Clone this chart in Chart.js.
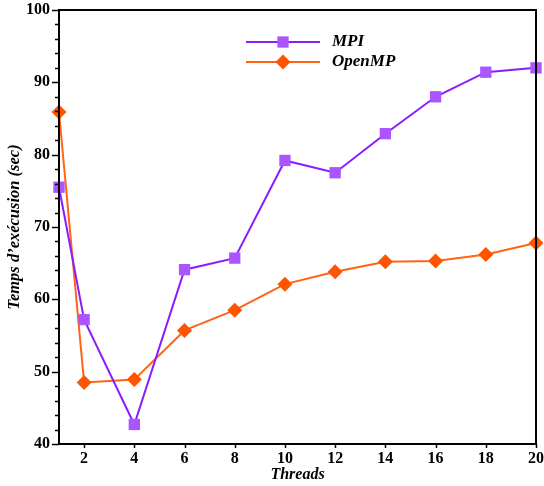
<!DOCTYPE html>
<html>
<head>
<meta charset="utf-8">
<script src="https://cdn.jsdelivr.net/npm/chart.js@4.4.0/dist/chart.umd.min.js"></script>
<style>
  html, body { margin: 0; padding: 0; background: #fff; }
  #wrap { width: 544px; height: 486px; }
</style>
</head>
<body>
<div id="wrap"><canvas id="chart"></canvas></div>
<script>
// execution time vs number of threads
const threads = [1, 2, 4, 6, 8, 10, 12, 14, 16, 18, 20];
const mpiTimes = [75.5, 57.2, 42.7, 64.1, 65.7, 79.2, 77.5, 82.9, 88.0, 91.4, 92.0];
const openmpTimes = [85.9, 48.5, 48.9, 55.7, 58.5, 62.1, 63.8, 65.2, 65.3, 66.2, 67.8];
const xTicks = [2, 4, 6, 8, 10, 12, 14, 16, 18, 20];
const yTicks = [40, 50, 60, 70, 80, 90, 100];
const yMinorStep = 2;

const serif = "'Liberation Serif', 'Times New Roman', serif";

// box around the plot plus outward tick marks (major and minor)
const frameTicks = {
  id: 'frameTicks',
  afterDraw(chart) {
    const { ctx, chartArea: a, scales: { x, y } } = chart;
    ctx.save();
    ctx.strokeStyle = '#000';
    ctx.lineWidth = 2;
    ctx.strokeRect(a.left, a.top, a.right - a.left, a.bottom - a.top);
    ctx.lineWidth = 1.5;
    ctx.beginPath();
    for (let v = y.min; v <= y.max; v += yMinorStep) {
      const py = Math.round(y.getPixelForValue(v)) + 0.5;
      const len = yTicks.includes(v) ? 7 : 4;
      ctx.moveTo(a.left - len, py);
      ctx.lineTo(a.left, py);
    }
    xTicks.forEach(v => {
      const px = Math.round(x.getPixelForValue(v)) + 0.5;
      ctx.moveTo(px, a.bottom);
      ctx.lineTo(px, a.bottom + 4);
    });
    ctx.stroke();
    ctx.restore();
  }
};

// legend with line + marker samples
const lineLegend = {
  id: 'lineLegend',
  afterDraw(chart) {
    const { ctx, chartArea: a } = chart;
    const x0 = a.left + 187, x1 = a.left + 261, tx = a.left + 273;
    chart.data.datasets.forEach((ds, i) => {
      const yy = a.top + 32 + i * 20;
      ctx.save();
      ctx.strokeStyle = ds.borderColor;
      ctx.lineWidth = 2;
      ctx.beginPath();
      ctx.moveTo(x0, yy);
      ctx.lineTo(x1, yy);
      ctx.stroke();
      ctx.fillStyle = ds.pointBackgroundColor;
      Chart.helpers.drawPoint(ctx, {
        pointStyle: ds.pointStyle, radius: ds.pointRadius, borderWidth: 0
      }, (x0 + x1) / 2, yy);
      ctx.fillStyle = '#000';
      ctx.font = 'italic bold 17px ' + serif;
      ctx.textBaseline = 'middle';
      ctx.fillText(ds.label, tx, yy);
      ctx.restore();
    });
  }
};

new Chart(document.getElementById('chart'), {
  type: 'line',
  data: {
    datasets: [
      {
        label: 'MPI',
        data: threads.map((t, i) => ({ x: t, y: mpiTimes[i] })),
        borderColor: '#8a1cff',
        borderWidth: 2,
        pointStyle: 'rect',
        pointRadius: 8,
        pointBorderWidth: 0,
        pointBackgroundColor: '#aa55ff',
        pointBorderColor: '#aa55ff',
        clip: false
      },
      {
        label: 'OpenMP',
        data: threads.map((t, i) => ({ x: t, y: openmpTimes[i] })),
        borderColor: '#ff6414',
        borderWidth: 2,
        pointStyle: 'rectRot',
        pointRadius: 7.5,
        pointBorderWidth: 0,
        pointBackgroundColor: '#ff5500',
        pointBorderColor: '#ff5500',
        clip: false
      }
    ]
  },
  options: {
    responsive: true,
    maintainAspectRatio: false,
    animation: false,
    layout: { padding: { top: 10, right: 8, left: 0, bottom: 0 } },
    plugins: { legend: { display: false }, tooltip: { enabled: false } },
    scales: {
      x: {
        type: 'linear',
        min: 1,
        max: 20,
        afterBuildTicks: s => { s.ticks = xTicks.map(v => ({ value: v })); },
        afterFit: s => { s.height = 42; s.paddingLeft = 0; s.paddingRight = 0; },
        grid: { display: false, drawTicks: false },
        border: { display: false },
        ticks: {
          color: '#000',
          padding: 5,
          maxRotation: 0,
          font: { family: serif, size: 16, weight: 'bold' }
        },
        title: {
          display: true,
          text: 'Threads',
          color: '#000',
          padding: { bottom: 2 },
          font: { family: serif, size: 16, weight: 'bold', style: 'italic' }
        }
      },
      y: {
        min: 40,
        max: 100,
        afterBuildTicks: s => { s.ticks = yTicks.map(v => ({ value: v })); },
        afterFit: s => { s.width = 59; s.paddingTop = 0; s.paddingBottom = 0; },
        grid: { display: false, drawTicks: false },
        border: { display: false },
        ticks: {
          color: '#000',
          padding: 9,
          font: { family: serif, size: 16, weight: 'bold' }
        },
        title: {
          display: true,
          text: 'Temps d’exécusion (sec)',
          color: '#000',
          padding: { top: 5 },
          font: { family: serif, size: 16.5, weight: 'bold', style: 'italic' }
        }
      }
    }
  },
  plugins: [frameTicks, lineLegend]
});
</script>
</body>
</html>
